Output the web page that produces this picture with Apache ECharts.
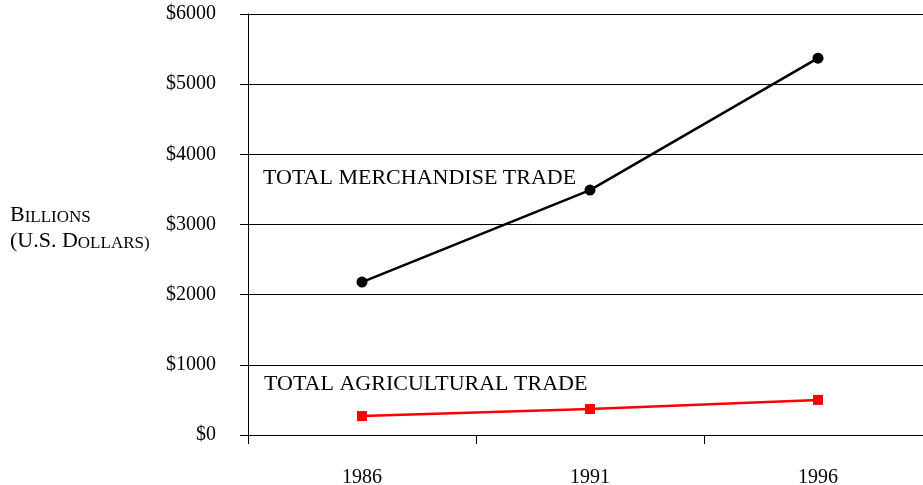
<!DOCTYPE html>
<html>
<head>
<meta charset="utf-8">
<script src="https://cdn.jsdelivr.net/npm/echarts@6/dist/echarts.min.js"></script>
<style>
html, body { margin: 0; padding: 0; background: #fff; }
#main { width: 923px; height: 485px; }
</style>
</head>
<body>
<div id="main"></div>
<script>
var years = ['1986', '1991', '1996'];
var merchandise = [2180, 3490, 5370];
var agricultural = [270, 370, 500];
var yTicks = [0, 1000, 2000, 3000, 4000, 5000, 6000];

var font = '"Liberation Serif", "Times New Roman", serif';
var myChart = echarts.init(document.getElementById('main'));

option = {
    animation: false,
    backgroundColor: '#fff',
    grid: {
        left: 248,
        top: 14,
        width: 684,
        height: 421,
        outerBoundsMode: 'none'
    },
    xAxis: {
        type: 'category',
        data: years,
        boundaryGap: true,
        axisLine: { lineStyle: { color: '#000', width: 1 } },
        axisTick: { show: true, length: 9, lineStyle: { color: '#000' } },
        axisLabel: {
            color: '#000',
            fontFamily: font,
            fontSize: 20,
            margin: 33
        },
        splitLine: { show: false }
    },
    yAxis: {
        type: 'value',
        min: yTicks[0],
        max: yTicks[yTicks.length - 1],
        interval: 1000,
        axisLine: { show: true, lineStyle: { color: '#000', width: 1 } },
        axisTick: { show: true, length: 8, lineStyle: { color: '#000' } },
        axisLabel: {
            color: '#000',
            fontFamily: font,
            fontSize: 20,
            margin: 32,
            formatter: function (v) { return '$' + v; }
        },
        splitLine: { show: true, lineStyle: { color: '#000', width: 1 } }
    },
    graphic: [
        {
            type: 'text',
            left: 10,
            top: 204,
            style: {
                text: '{b|B}{s|ILLIONS}\n{b|(U.S. D}{s|OLLARS)}',
                rich: {
                    b: { fontFamily: font, fontSize: 22, fill: '#000', lineHeight: 26, verticalAlign: 'bottom' },
                    s: { fontFamily: font, fontSize: 17, fill: '#000', lineHeight: 20, verticalAlign: 'bottom' }
                },
                fill: '#000'
            }
        },
        {
            type: 'text',
            left: 263,
            top: 167,
            style: { text: 'TOTAL MERCHANDISE TRADE', fontFamily: font, fontSize: 22, fill: '#000' }
        },
        {
            type: 'text',
            left: 264,
            top: 373,
            style: { text: 'TOTAL AGRICULTURAL TRADE', fontFamily: font, fontSize: 22, fill: '#000' }
        }
    ],
    series: [
        {
            name: 'TOTAL MERCHANDISE TRADE',
            type: 'line',
            data: merchandise,
            symbol: 'circle',
            symbolSize: 11,
            itemStyle: { color: '#000' },
            lineStyle: { color: '#000', width: 2.5 }
        },
        {
            name: 'TOTAL AGRICULTURAL TRADE',
            type: 'line',
            data: agricultural,
            symbol: 'rect',
            symbolSize: 10,
            itemStyle: { color: '#ff0000' },
            lineStyle: { color: '#ff0000', width: 2.5 }
        }
    ]
};

myChart.setOption(option);
</script>
</body>
</html>
